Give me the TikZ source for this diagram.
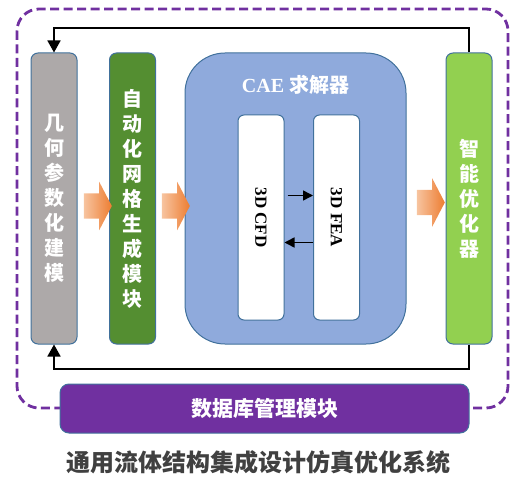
\documentclass[tikz,border=0pt]{standalone}
\usepackage{fontspec}
\setmainfont{Liberation Serif}
\newfontfamily\cjk{Noto Sans CJK SC}
\usetikzlibrary{arrows.meta,shapes.arrows}
\definecolor{edgeblue}{RGB}{65,113,156}
\definecolor{geogray}{RGB}{173,169,169}
\definecolor{meshgreen}{RGB}{84,142,49}
\definecolor{caeblue}{RGB}{143,170,220}
\definecolor{optgreen}{RGB}{146,208,80}
\definecolor{dbpurple}{RGB}{112,48,160}
\definecolor{titlegray}{RGB}{64,64,64}
\definecolor{arrlight}{RGB}{247,196,160}
\definecolor{arrdark}{RGB}{237,125,49}

\begin{document}
\begin{tikzpicture}[
 x=1pt, y=-1pt,
 box/.style={draw=edgeblue, line width=1pt, rounded corners=7pt, minimum width=46pt, minimum height=291pt,
   inner sep=0pt, align=center, text=white, font=\cjk\bfseries\fontsize{20}{25}\selectfont},
 inbox/.style={box, fill=white, rounded corners=6pt, minimum height=205pt, text=black,
   font=\bfseries\fontsize{17}{20}\selectfont},
 blk/.style={single arrow, single arrow head extend=11.5pt, single arrow tip angle=125,
   inner sep=0pt, inner ysep=12.5pt, minimum height=28pt, left color=arrlight, right color=arrdark},
 frame/.style={draw=dbpurple, line width=2.8pt, dash pattern=on 9pt off 4.5pt, rounded corners=22pt},
 fb/.style={line width=1.6pt, -{Triangle[width=13pt,length=12pt]}},
 ia/.style={line width=1.5pt, -{Triangle[width=10pt,length=10pt]}}]
\useasboundingbox (0,0) rectangle (527,484);
\draw[frame] (17,9) rectangle (508,408);
\node[box, fill=geogray] (geo) at (54,198.5) {几\\何\\参\\数\\化\\建\\模};
\node[box, fill=meshgreen] (mesh) at (132.5,198.5) {自\\动\\化\\网\\格\\生\\成\\模\\块};
\node[box, fill=caeblue, minimum width=221pt, rounded corners=40pt] (cae) at (295.5,198.5) {};
\node[text=white, font=\bfseries\fontsize{20}{24}\selectfont] (caelbl) at (295.5,85) {CAE {\cjk 求解器}};
\node[inbox] (cfd) at (261,217.5) {\rotatebox{-90}{3D CFD}};
\node[inbox] (fea) at (336.5,217.5) {\rotatebox{-90}{3D FEA}};
\node[box, fill=optgreen] (opt) at (469,198.5) {智\\能\\优\\化\\器};
\node[box, fill=dbpurple, minimum width=409pt, minimum height=49pt, rounded corners=9pt,
  font=\cjk\bfseries\fontsize{21}{25}\selectfont] (db) at (264.5,408.5) {数据库管理模块};
\node[text=titlegray, font=\cjk\bfseries\fontsize{24}{29}\selectfont] (title) at (258,462) {通用流体结构集成设计仿真优化系统};
\node[blk] (a1) at (94.5,206) {};
\node[blk] (a2) at (172.5,206) {};
\node[blk] (a3) at (427.5,202.5) {};
\draw[ia] ([xshift=3pt,yshift=22pt]cfd.east) -- ([yshift=22pt]fea.west);
\draw[ia] ([yshift=-25pt]fea.west) -- ([yshift=-25pt]cfd.east);
\coordinate (tl) at (54,28);
\coordinate (bl) at (54,369);
\draw[fb] (opt.north) |- (tl) -- (geo.north);
\draw[fb] (opt.south) |- (bl) -- (geo.south);
\end{tikzpicture}
\end{document}
